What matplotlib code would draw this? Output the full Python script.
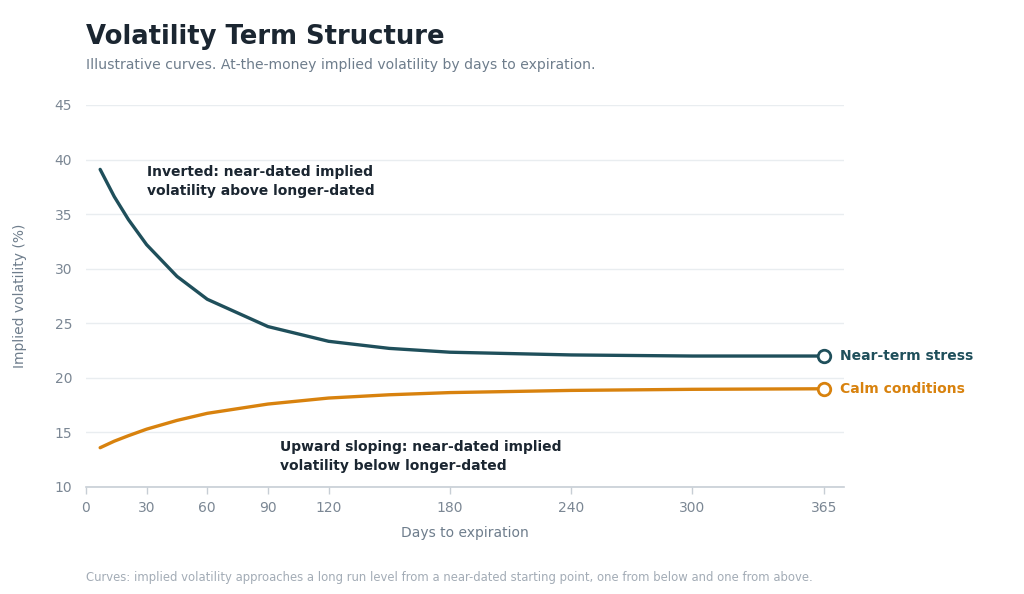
import matplotlib
matplotlib.use("Agg")
import matplotlib.pyplot as plt

days = [7, 14, 21, 30, 45, 60, 90, 120, 150, 180, 240, 300, 365]
stress = [39.1, 36.6, 34.5, 32.2, 29.3, 27.2, 24.7, 23.35, 22.7, 22.35, 22.1, 22.0, 22.0]
calm = [13.6, 14.2, 14.7, 15.3, 16.1, 16.75, 17.6, 18.15, 18.45, 18.65, 18.85, 18.95, 19.0]
xticks = [0, 30, 60, 90, 120, 180, 240, 300, 365]
yticks = [10, 15, 20, 25, 30, 35, 40, 45]

C_STRESS = "#1f4f5b"
C_CALM = "#d8820e"
C_TITLE = "#1b2631"
C_SUB = "#6e7d8c"
C_TICK = "#7b8794"
C_FOOT = "#a3acb6"
C_GRID = "#e9edf0"
C_SPINE = "#c7ced5"

plt.rcParams['font.family'] = ['DejaVu Sans']

fig = plt.figure(figsize=(10.24, 5.94), dpi=100)
ax = fig.add_axes([86/1024, 1-487/594, (844-86)/1024, (487-105)/594])

ax.plot(days, stress, color=C_STRESS, lw=2.4, solid_capstyle='round', zorder=3)
ax.plot(days, calm, color=C_CALM, lw=2.4, solid_capstyle='round', zorder=3)
ax.plot(days[-1], stress[-1], 'o', ms=9, mfc='white', mec=C_STRESS, mew=2, zorder=4, clip_on=False)
ax.plot(days[-1], calm[-1], 'o', ms=9, mfc='white', mec=C_CALM, mew=2, zorder=4, clip_on=False)

ax.annotate("Near-term stress", (days[-1], stress[-1]), xytext=(12, 0), textcoords='offset points',
            va='center', ha='left', fontsize=10, fontweight='bold', color=C_STRESS, annotation_clip=False)
ax.annotate("Calm conditions", (days[-1], calm[-1]), xytext=(12, 0), textcoords='offset points',
            va='center', ha='left', fontsize=10, fontweight='bold', color=C_CALM, annotation_clip=False)

ax.text(30, 39.5, "Inverted: near-dated implied\nvolatility above longer-dated", fontsize=10,
        fontweight='bold', color=C_TITLE, va='top', ha='left', linespacing=1.45)
ax.text(96, 14.3, "Upward sloping: near-dated implied\nvolatility below longer-dated", fontsize=10,
        fontweight='bold', color=C_TITLE, va='top', ha='left', linespacing=1.45)

ax.set_xlim(0, 375)
ax.set_ylim(10, 45)
ax.set_xticks(xticks)
ax.set_yticks(yticks)
ax.grid(axis='y', color=C_GRID, lw=1)
ax.set_axisbelow(True)
for s in ['top', 'right', 'left']:
    ax.spines[s].set_visible(False)
ax.spines['bottom'].set_color(C_SPINE)
ax.spines['bottom'].set_linewidth(1.2)
ax.tick_params(axis='x', colors=C_SPINE, labelcolor=C_TICK, length=5, width=1, labelsize=10, pad=5)
ax.tick_params(axis='y', length=0, labelcolor=C_TICK, labelsize=10, pad=10)

ax.set_xlabel("Days to expiration", fontsize=10, color=C_SUB, labelpad=8)
ax.set_ylabel("Implied volatility (%)", fontsize=10, color=C_SUB, labelpad=20)

fig.text(86/1024, 1-36.5/594, "Volatility Term Structure", fontsize=18.6, fontweight='bold',
         color=C_TITLE, va='center', ha='left')
fig.text(86/1024, 1-65/594, "Illustrative curves. At-the-money implied volatility by days to expiration.",
         fontsize=10.1, color=C_SUB, va='center', ha='left')
fig.text(86/1024, 1-577/594,
         "Curves: implied volatility approaches a long run level from a near-dated starting point, one from below and one from above.",
         fontsize=8.4, color=C_FOOT, va='center', ha='left')

fig.savefig("out.png", dpi=100, facecolor='white')
